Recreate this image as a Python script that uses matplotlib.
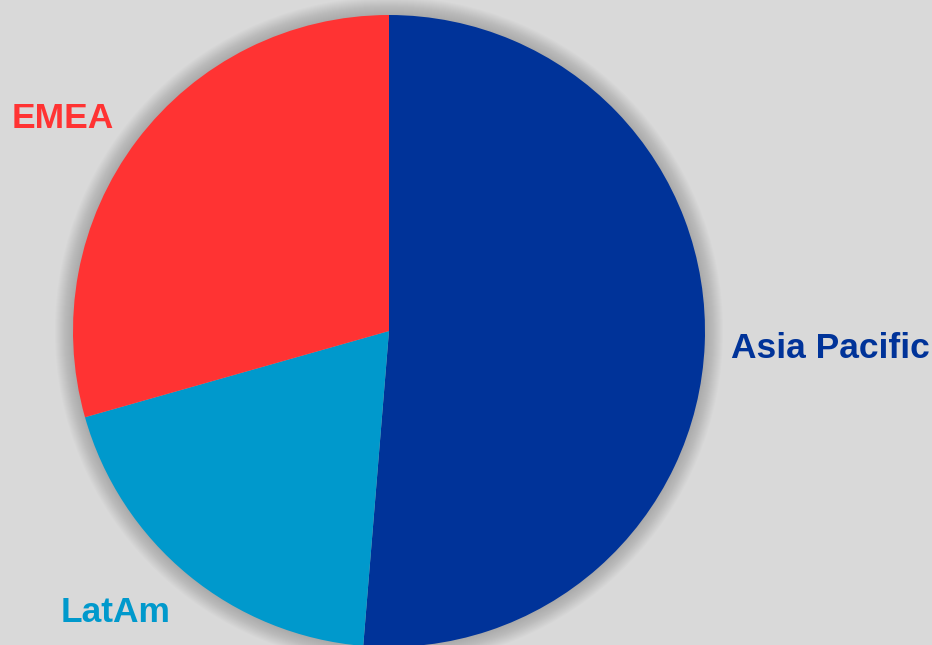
import matplotlib.pyplot as plt
from matplotlib.patches import Circle

# share by region (percent)
regions = ['Asia Pacific', 'LatAm', 'EMEA']
shares = [51.3, 19.3, 29.4]
colors = ['#003399', '#0099CC', '#FF3333']

bg = '#D9D9D9'
W, H = 932, 645
cx, cy, r = 389, H - 331, 316

fig = plt.figure(figsize=(W / 100, H / 100), dpi=100, facecolor=bg)
ax = fig.add_axes([0, 0, 1, 1])
ax.set_facecolor(bg)

# soft shadow round the pie
for k in range(18, 0, -1):
    ax.add_patch(Circle((cx, cy), r + k, color='#666666', alpha=0.022, lw=0, zorder=0))

ax.pie(shares, colors=colors, startangle=90, counterclock=False,
       center=(cx, cy), radius=r, wedgeprops={'linewidth': 0}, frame=True)

ax.set_xlim(0, W)
ax.set_ylim(0, H)
ax.set_aspect('equal')
ax.axis('off')

# labels sit outside the pie
label_pos = {'Asia Pacific': (830, H - 348), 'LatAm': (116, H - 613), 'EMEA': (63, H - 119)}
for name, col in zip(regions, colors):
    x, y = label_pos[name]
    ax.text(x, y, name, color=col, fontsize=25.5, fontweight='bold',
            family='Liberation Sans', ha='center', va='center')

fig.savefig('out.png', dpi=100, facecolor=bg)
